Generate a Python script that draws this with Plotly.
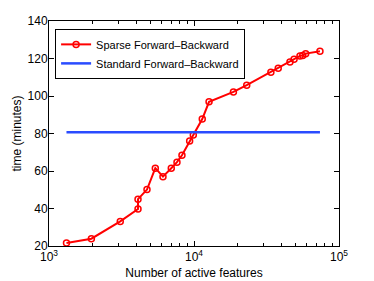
import plotly.graph_objects as go

features = [1320, 1960, 3100, 4110, 4110, 4740, 5410, 6110, 6970, 7630, 8260, 9330, 9890,
            11400, 12700, 18700, 23100, 33900, 38100, 45900, 49000, 53800, 56200, 58900, 73900]
sparse_time = [21.6, 23.9, 33.1, 39.7, 45.0, 50.1, 61.5, 57.0, 61.5, 64.7, 68.4, 76.0, 79.2,
               87.7, 96.9, 102.2, 105.8, 112.7, 114.8, 118.2, 119.6, 121.4, 121.6, 122.6, 123.9]
standard_x = [1320, 73900]
standard_time = [80.7, 80.7]

font = "Liberation Sans, Arial, Helvetica, sans-serif"

fig = go.Figure()
fig.add_trace(go.Scatter(x=features, y=sparse_time, mode="lines+markers",
                         name="Sparse Forward\u2013Backward",
                         line=dict(color="#ff0000", width=2),
                         marker=dict(symbol="circle-open", size=6, color="#ff0000",
                                     line=dict(width=1.5, color="#ff0000"))))
fig.add_trace(go.Scatter(x=standard_x, y=standard_time, mode="lines",
                         name="Standard Forward\u2013Backward",
                         line=dict(color="#2a4cff", width=2.5)))

fig.update_layout(
    width=374, height=281,
    margin=dict(l=49, r=35, t=21, b=35),
    paper_bgcolor="white", plot_bgcolor="white",
    font=dict(family=font, size=11, color="black"),
    showlegend=True,
    legend=dict(x=0.021, y=0.965, xanchor="left", yanchor="top",
                bordercolor="black", borderwidth=1, bgcolor="white",
                font=dict(size=11), tracegroupgap=0, itemwidth=30),
)
fig.update_xaxes(type="log", range=[3, 5], automargin=False,
                 tickvals=[1000, 10000, 100000],
                 ticktext=["10<sup>3</sup>", "10<sup>4</sup>", "10<sup>5</sup>"],
                 tickfont=dict(size=12),
                 ticks="inside", ticklen=5, tickcolor="black",
                 minor=dict(ticks="inside", ticklen=3, dtick="D1", tickcolor="black"),
                 showline=True, linecolor="black", linewidth=1, mirror="ticks",
                 showgrid=False, zeroline=False,
                 title=dict(text="Number of active features", font=dict(size=12), standoff=5))
fig.update_yaxes(range=[20, 140], tickvals=[20, 40, 60, 80, 100, 120, 140], automargin=False,
                 tickfont=dict(size=12),
                 ticks="inside", ticklen=5, tickcolor="black", ticklabelstandoff=-2,
                 showline=True, linecolor="black", linewidth=1, mirror="ticks",
                 showgrid=False, zeroline=False,
                 title=dict(text="time (minutes)", font=dict(size=12), standoff=3))

fig.write_html("out.html", config={"displayModeBar": False},
               post_script="document.body.style.margin='0';document.body.style.overflow='hidden';")
